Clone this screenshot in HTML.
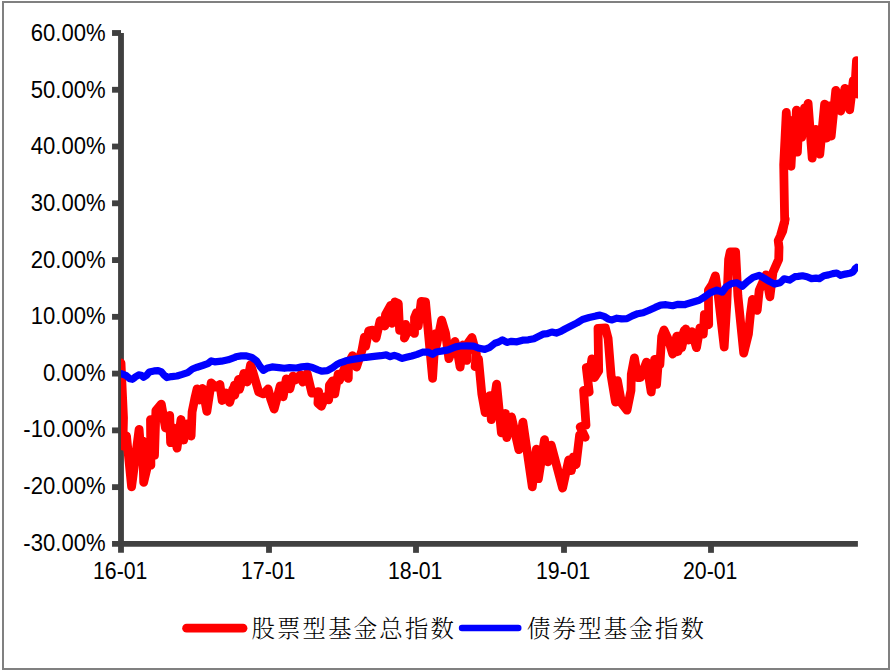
<!DOCTYPE html>
<html lang="zh-CN"><head><meta charset="utf-8"><title>股票型基金总指数 / 债券型基金指数</title>
<style>html,body{margin:0;padding:0;background:#fff}body{width:891px;height:670px;overflow:hidden}svg{display:block}.ax{font-family:"Liberation Sans","Noto Sans CJK SC",sans-serif;font-size:22.1px;fill:#000}.lg{font-family:"Liberation Serif","Noto Serif CJK SC",serif;font-size:23.4px;letter-spacing:2.2px;font-weight:300;fill:#000}</style></head><body>
<svg width="891" height="670" viewBox="0 0 891 670">
<rect x="0" y="0" width="891" height="670" fill="#fff"/>
<rect x="3" y="2" width="886" height="667" fill="none" stroke="#808080" stroke-width="2"/>
<defs><clipPath id="pc"><rect x="121" y="20" width="736.9" height="540"/></clipPath></defs>
<g stroke="#404040" stroke-width="5.84" fill="none">
<path d="M121 33.1V552.85"/>
<path d="M112.04 543.92H857.9"/>
<path d="M112.04 33.00H121"/>
<path d="M112.04 89.77H121"/>
<path d="M112.04 146.53H121"/>
<path d="M112.04 203.30H121"/>
<path d="M112.04 260.07H121"/>
<path d="M112.04 316.83H121"/>
<path d="M112.04 373.60H121"/>
<path d="M112.04 430.37H121"/>
<path d="M112.04 487.13H121"/>
<path d="M269.0 544V552.85"/>
<path d="M416.0 544V552.85"/>
<path d="M564.0 544V552.85"/>
<path d="M711.0 544V552.85"/>
</g>
<g clip-path="url(#pc)">
<polyline fill="none" stroke="#ff0000" stroke-width="8.8" stroke-linejoin="round" stroke-linecap="round" points="121,363 123.5,418 122.8,446 126.5,436 131.6,486.8 139.1,429.4 141.2,458 142.6,441 143.7,482.3 148.5,462 150.9,465.2 150.5,419.6 154.5,455.4 155.9,410.5 161.3,404.1 165.5,428 169.7,415.5 170.6,442.7 174,428 177,448.1 181,419.5 183.7,440 187,424 191.1,436 192.1,411.9 194.8,398.6 197.1,388.8 199.6,400 202.6,388.4 206.9,411.4 211.2,382.9 215.5,387 219.9,384.5 222.2,400.5 226,393 229.7,402.4 234.5,385.2 229.7,402.2 232.8,388.9 234.7,395.2 238.5,379.5 239.5,389.4 243.9,373.4 247.2,382 250.6,364.6 253,372.3 258.7,391.9 263.4,393.9 268.1,388.9 270.8,399.3 274.2,409 280.2,385.8 283.2,396.8 286.3,378.8 289.9,388.8 293,376.1 295.3,380 300.4,374.7 302.7,382 307.2,373.4 311.9,393.2 318.6,391.6 317.9,403.3 321.3,406.3 325.3,396.6 328.7,399.9 329.4,385.1 332.7,380.8 334.8,393.9 338.1,374.1 339.5,380.4 344.2,369 348.3,378.4 348.5,363.4 352.5,355.7 356.5,367 361.9,350.6 364.4,337.1 365.7,346.2 368.7,330.8 372.7,330.1 376.1,338.1 380.1,320.7 384.8,326 385.5,314.6 390.5,305.5 391.6,323.3 394.9,301.9 398.3,303.5 399.6,330.4 405.7,324.3 404.4,338.1 409.1,328.4 414.5,333.4 414.5,317.6 416.5,312.6 418.2,326 421.2,301.4 425.5,301.9 432.6,378.3 435.4,333.7 436.6,345 441.6,320.1 445.5,333 448.9,358.7 455,341.4 457.5,352 460.1,367.1 463,345 466.8,360.4 468,343 471.9,337.5 476.4,354.1 475.1,366.7 478.5,358.9 481.8,393.9 485.2,412.7 489.9,395.6 491.3,419.7 496.6,384.2 501.4,432.9 505.4,413.5 506.8,437.6 511.5,416.9 518.9,449.7 522.9,422.2 532.3,486.8 536.4,449.2 538.4,478.7 544.5,439.7 547.8,461.8 551.2,445.1 562.6,488.1 568.7,459.9 571.4,470.6 573.4,456.9 576.1,464.5 579.6,435 585.2,437.3 580.2,427 586,425 583.6,390.4 589.2,392 586.3,367.5 589,379 591.9,358.8 594.4,377.6 598.7,370.9 598,328.3 605.4,328 608.1,338.4 611.1,375.5 615.5,402.1 617.5,380.7 621.6,403.2 627,410.2 631,390.4 631.3,374.2 634.4,357.8 637.7,377.6 640.4,377.6 646.5,362.1 651.2,392 654.6,359.4 656.6,384.3 658.6,358.1 659.9,364.4 661.7,336.4 664,330 668.7,340.4 672.7,354.1 676.8,336.1 678.1,351.4 684.2,330.7 677,351.8 679.7,336 681.7,347.7 685.8,329 688.5,340 691.8,331.7 696.5,347.7 699.9,327.9 703.3,334.2 704.4,314.4 708.7,324.8 708.4,290.2 712,284.8 715.4,275.8 718.4,296.9 724.2,347 726.9,302.3 728.6,259.4 730.2,252 735.6,251.8 737.9,295.8 743.7,353.1 748.4,334.2 750.4,314.4 752.4,299.4 757.2,310.4 759.2,290.2 765.9,274.9 769.9,296.8 773,272.2 778.7,259.4 779,247.3 778.2,240.6 782.7,231.2 785.2,219 780.3,236.2 783.8,225.4 784.7,222.7 783.7,164.8 786.3,112.4 788.5,150 789.3,125 791,166.3 793.5,120 794.5,150 796.4,110.2 797.4,152 799.2,114 801.7,137.4 804.5,108 805.5,125 808.1,103.4 812.2,158.2 815.8,129.3 819.8,154.2 824.6,104.2 826.5,138 829,106 831.2,136 835.8,90.3 840.7,111.1 844.9,88.4 849.7,109.8 853.3,80.4 855,86 856.5,60.6 857.7,94"/>
<polyline fill="none" stroke="#0000ff" stroke-width="7.2" stroke-linejoin="round" stroke-linecap="round" points="121.1,373.6 125.8,375.3 129.8,378.7 132.5,379.3 135.2,377.1 138.6,374.9 141.3,375.3 143.6,377.3 146.6,375.3 149.3,371.9 154.1,370.9 158.1,370.6 161.5,371.9 164.2,375.3 166.9,377.6 171.6,376.6 177,376 182.3,374.4 187.7,372.6 192.4,369 197.2,367.2 202.5,365.5 207.9,363.6 211.3,360.9 214.7,361.8 221.4,361.2 228.1,359.8 234.9,357.4 235.8,356.8 241.2,355.9 246.5,355.9 251.9,357.5 256.6,360.9 260,366.3 263.4,370.3 266.8,368.3 272.1,366.9 278.9,367.6 284.3,368.3 289.6,367.6 296.4,368 301.8,366.9 307.2,366.3 312.5,367.6 317.9,369.9 322,371.2 327.4,370.7 332.7,367.6 336.8,364.5 340.8,362.6 344.9,361.3 345.8,360.7 352.5,359.4 359.2,358.4 366,357.3 374.1,356.4 380.8,355.7 386.2,354.9 390.2,356.7 394.3,355.3 398.3,356.7 401.7,358.4 406.4,357.3 411.8,356 417.2,354.4 422.5,352.2 427.9,352 432.6,354.4 436,352 442.7,350.9 448.1,349.9 455.6,346.9 460.1,346 466.8,345.8 473.6,346.2 479.2,348.3 484.8,349.4 489.3,347.7 494.9,343.2 498.7,342 502.4,339.8 506.9,342.4 511.4,341.3 517,341.8 522.6,340.2 528.3,339.8 533.9,338.7 538.4,336.5 542.9,334.2 547.3,333.7 551.8,332 556.3,333.1 560.8,331.4 565,329 570.4,326.3 577.1,322.9 582.5,319.5 589.2,317.5 596,315.9 600,315.1 604.1,316.4 608.1,318.9 612.1,319.9 616.9,318.2 621.6,318.9 627,318.6 632.3,315.9 637.7,313.7 643.1,312.8 648.5,310.5 655.2,307.4 660.6,305.1 666,304.7 672.7,305.7 678.1,304.3 684.9,304.7 685.8,304.3 692.5,302.3 699.2,300.3 704.6,296.9 710,292.9 716.8,290.2 722.1,292.2 726.2,286.8 731.6,283.5 737,282.8 742.3,286.2 747.7,281.4 753.1,277.4 759.2,275.4 763.9,278.1 769.3,281.4 774.7,284.1 780.1,282.8 784.1,278.8 789.5,280.1 794.9,276.7 798.1,276.4 802.5,275.8 807,276.7 811.5,278.6 816,278.1 819.4,278.6 823.9,275.8 828.4,274.9 832.9,273.6 836.8,273 840.7,275.3 845.2,274.1 849.7,273.3 853.1,271.9 855.3,268.5 856.6,267.4"/>
</g>
<g class="ax" text-anchor="end">
<text transform="translate(105.6,41.1) scale(1,1.085)">60.00%</text>
<text transform="translate(105.6,97.7) scale(1,1.085)">50.00%</text>
<text transform="translate(105.6,154.3) scale(1,1.085)">40.00%</text>
<text transform="translate(105.6,210.9) scale(1,1.085)">30.00%</text>
<text transform="translate(105.6,267.5) scale(1,1.085)">20.00%</text>
<text transform="translate(105.6,324.1) scale(1,1.085)">10.00%</text>
<text transform="translate(105.6,380.7) scale(1,1.085)">0.00%</text>
<text transform="translate(105.6,437.3) scale(1,1.085)">-10.00%</text>
<text transform="translate(105.6,493.9) scale(1,1.085)">-20.00%</text>
<text transform="translate(105.6,550.5) scale(1,1.085)">-30.00%</text>
</g>
<g class="ax" text-anchor="middle">
<text transform="translate(120.2,579.3) scale(0.965,1.085)">16-01</text>
<text transform="translate(268.2,579.3) scale(0.965,1.085)">17-01</text>
<text transform="translate(415.2,579.3) scale(0.965,1.085)">18-01</text>
<text transform="translate(563.2,579.3) scale(0.965,1.085)">19-01</text>
<text transform="translate(710.2,579.3) scale(0.965,1.085)">20-01</text>
</g>
<path d="M186.6 628.2H243" stroke="#ff0000" stroke-width="8.8" stroke-linecap="round" fill="none"/>
<text class="lg" x="251.4" y="636.5">股票型基金总指数</text>
<path d="M462 628H518.3" stroke="#0000ff" stroke-width="6.4" stroke-linecap="round" fill="none"/>
<text class="lg" x="527" y="636.5">债券型基金指数</text>
</svg></body></html>
